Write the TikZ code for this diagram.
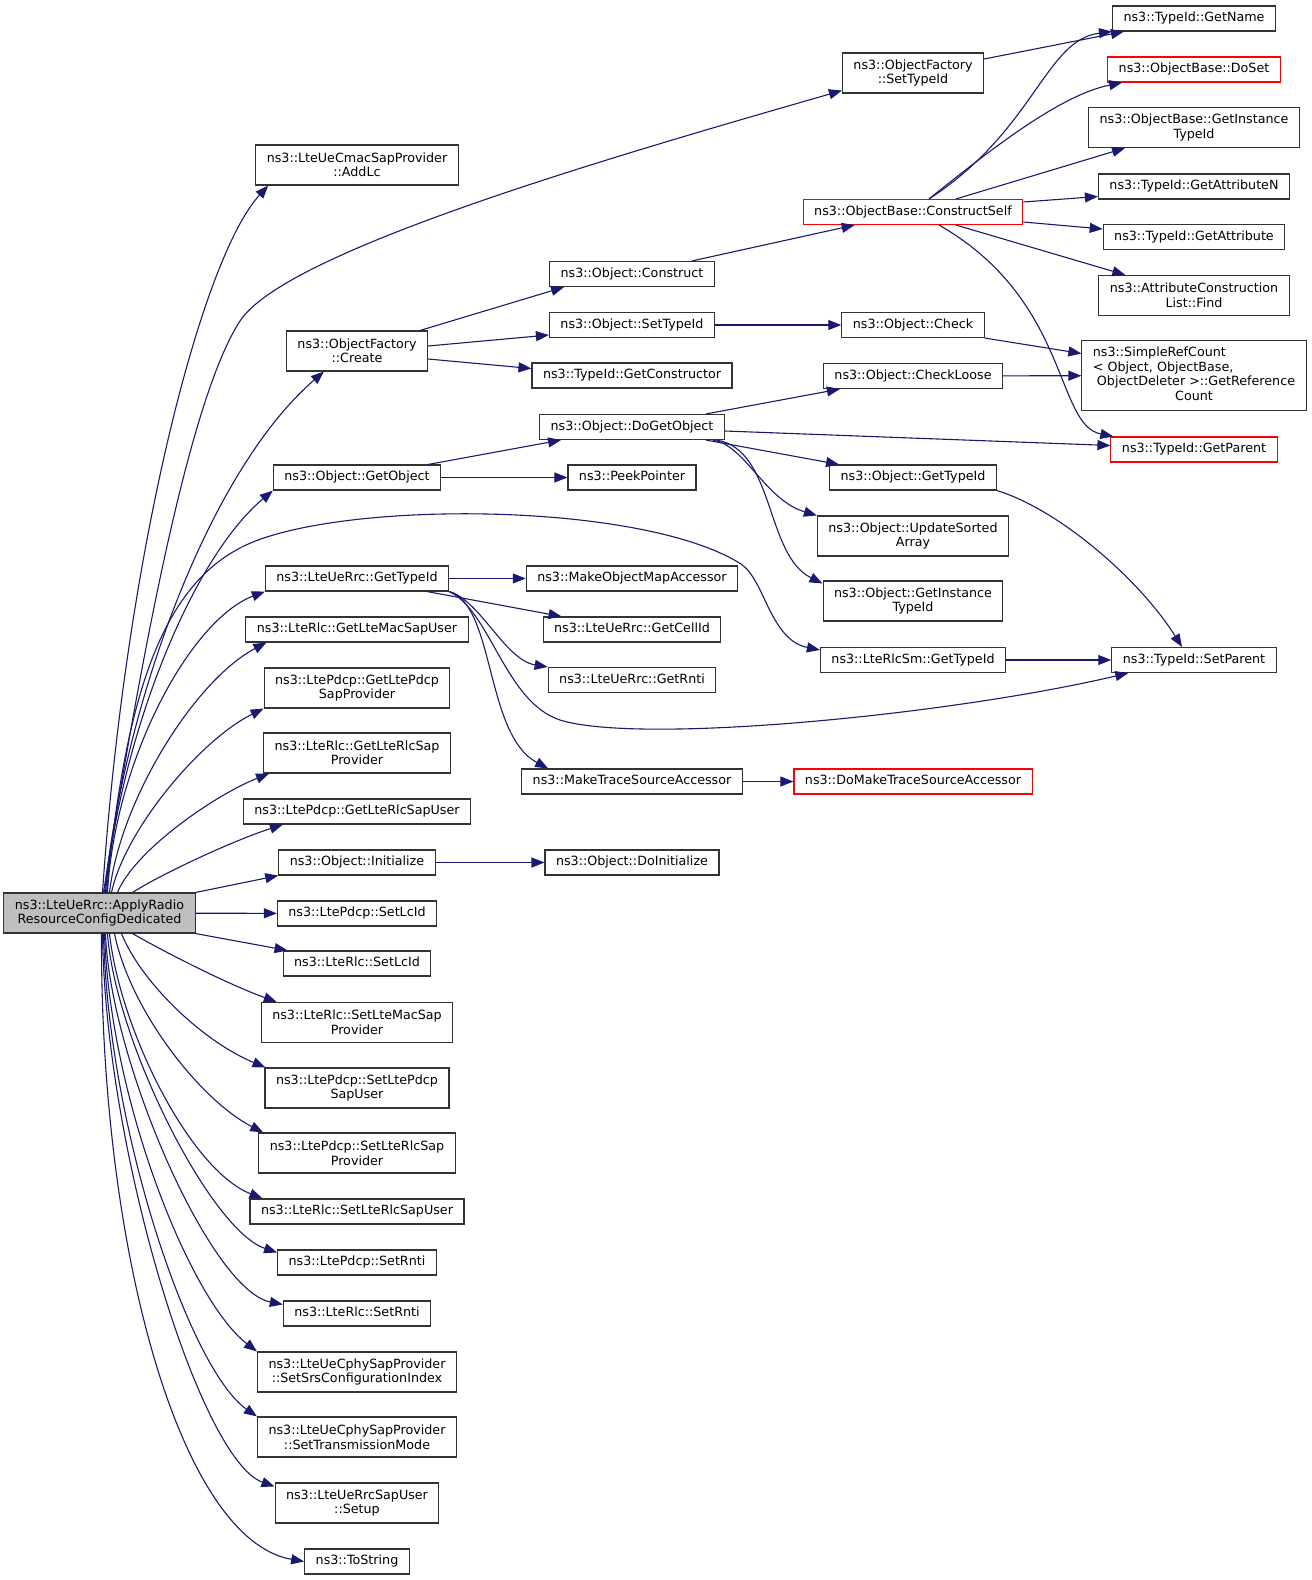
\documentclass[tikz,border=0pt]{standalone}
\usepackage{fontspec}
\setmainfont{DejaVu Sans}
\usetikzlibrary{arrows.meta}
\definecolor{midnightblue}{HTML}{191970}
\tikzset{
  fnbase/.style={draw=black!80, line width=1.1pt, inner xsep=11pt, inner ysep=0pt,
    font=\fontsize{12.7}{14.5}\selectfont},
  fn/.style={fnbase, minimum height=25pt, text height=9.5pt, text depth=3pt},
  fnn/.style={fnbase, align=center, minimum height=40pt},
  trunc/.style={draw=red},
  call/.style={draw=midnightblue, line width=1.1pt, -{Triangle[length=13pt,width=10pt]}}
}
\begin{document}
\begin{tikzpicture}[x=1pt,y=-1pt]
  \useasboundingbox (0,0) rectangle (1312,1580);

  \node[fnn, fill=black!25] (root) at (99.5,913) {ns3::LteUeRrc::ApplyRadio\\ResourceConfigDedicated};

  \node[fnn] (AddLc) at (357,165) {ns3::LteUeCmacSapProvider\\::AddLc};
  \node[fnn] (Create) at (357,351) {ns3::ObjectFactory\\::Create};
  \node[fn] (GetObject) at (357,477.5) {ns3::Object::GetObject};
  \node[fn] (GetTypeId) at (357,578.5) {ns3::LteUeRrc::GetTypeId};
  \node[fn] (GetLteMacSapUser) at (357,629.5) {ns3::LteRlc::GetLteMacSapUser};
  \node[fnn] (GetLtePdcpSapProvider) at (357,688) {ns3::LtePdcp::GetLtePdcp\\SapProvider};
  \node[fnn] (GetLteRlcSapProvider) at (357,753) {ns3::LteRlc::GetLteRlcSap\\Provider};
  \node[fn] (GetLteRlcSapUser) at (357,811.5) {ns3::LtePdcp::GetLteRlcSapUser};
  \node[fn] (Initialize) at (357,862.5) {ns3::Object::Initialize};
  \node[fn] (PdcpSetLcId) at (357,913.5) {ns3::LtePdcp::SetLcId};
  \node[fn] (RlcSetLcId) at (357,963.5) {ns3::LteRlc::SetLcId};
  \node[fnn] (SetLteMacSapProvider) at (357,1022.5) {ns3::LteRlc::SetLteMacSap\\Provider};
  \node[fnn] (SetLtePdcpSapUser) at (357,1088) {ns3::LtePdcp::SetLtePdcp\\SapUser};
  \node[fnn] (SetLteRlcSapProvider) at (357,1153) {ns3::LtePdcp::SetLteRlcSap\\Provider};
  \node[fn] (SetLteRlcSapUser) at (357,1211.5) {ns3::LteRlc::SetLteRlcSapUser};
  \node[fn] (PdcpSetRnti) at (357,1262.5) {ns3::LtePdcp::SetRnti};
  \node[fn] (RlcSetRnti) at (357,1313.5) {ns3::LteRlc::SetRnti};
  \node[fnn] (SetSrs) at (357,1372) {ns3::LteUeCphySapProvider\\::SetSrsConfigurationIndex};
  \node[fnn] (SetTransmissionMode) at (357,1437) {ns3::LteUeCphySapProvider\\::SetTransmissionMode};
  \node[fnn] (Setup) at (357,1503) {ns3::LteUeRrcSapUser\\::Setup};
  \node[fn] (ToString) at (357,1561.5) {ns3::ToString};

  \node[fn] (Construct) at (632,274) {ns3::Object::Construct};
  \node[fn] (ObjSetTypeId) at (632,325) {ns3::Object::SetTypeId};
  \node[fn] (GetConstructor) at (632,375.5) {ns3::TypeId::GetConstructor};
  \node[fn] (DoGetObject) at (632,427) {ns3::Object::DoGetObject};
  \node[fn] (PeekPointer) at (632,477.5) {ns3::PeekPointer};
  \node[fn] (MakeObjectMapAccessor) at (632,578.5) {ns3::MakeObjectMapAccessor};
  \node[fn] (GetCellId) at (632,629.5) {ns3::LteUeRrc::GetCellId};
  \node[fn] (GetRnti) at (632,680) {ns3::LteUeRrc::GetRnti};
  \node[fn] (MakeTraceSourceAccessor) at (632,781.5) {ns3::MakeTraceSourceAccessor};
  \node[fn] (DoInitialize) at (632,862.5) {ns3::Object::DoInitialize};

  \node[fnn] (FactorySetTypeId) at (913,73) {ns3::ObjectFactory\\::SetTypeId};
  \node[fn, trunc] (ConstructSelf) at (913,212) {ns3::ObjectBase::ConstructSelf};
  \node[fn] (Check) at (913,325) {ns3::Object::Check};
  \node[fn] (CheckLoose) at (913,376) {ns3::Object::CheckLoose};
  \node[fn] (ObjGetTypeId) at (913,477.5) {ns3::Object::GetTypeId};
  \node[fnn] (UpdateSortedArray) at (913,536) {ns3::Object::UpdateSorted\\Array};
  \node[fnn] (ObjGetInstanceTypeId) at (913,601) {ns3::Object::GetInstance\\TypeId};
  \node[fn] (RlcSmGetTypeId) at (913,660) {ns3::LteRlcSm::GetTypeId};
  \node[fn, trunc] (DoMakeTraceSourceAccessor) at (913,781.5) {ns3::DoMakeTraceSourceAccessor};

  \node[fn] (GetName) at (1194,18.5) {ns3::TypeId::GetName};
  \node[fn, trunc] (DoSet) at (1194,69.5) {ns3::ObjectBase::DoSet};
  \node[fnn] (BaseGetInstanceTypeId) at (1194,127.5) {ns3::ObjectBase::GetInstance\\TypeId};
  \node[fn] (GetAttributeN) at (1194,186.5) {ns3::TypeId::GetAttributeN};
  \node[fn] (GetAttribute) at (1194,237) {ns3::TypeId::GetAttribute};
  \node[fnn] (Find) at (1194,295.5) {ns3::AttributeConstruction\\List::Find};
  \node[fnbase, minimum height=70pt] (GetReferenceCount) at (1194,375.5) {\begin{tabular}{@{}l@{}}
    ns3::SimpleRefCount\\
    < Object, ObjectBase,\\
    \ ObjectDeleter >::GetReference\\
    \multicolumn{1}{@{}c@{}}{Count}\end{tabular}};
  \node[fn, trunc] (GetParent) at (1194,449.5) {ns3::TypeId::GetParent};
  \node[fn] (SetParent) at (1194,660) {ns3::TypeId::SetParent};

  \draw[call] ([xshift=3pt]root.north) .. controls (125,560) and (200,260) .. ([xshift=13pt]AddLc.south west);
  \draw[call] ([xshift=4pt]root.north) .. controls (150,600) and (195,390) .. (240,321)
    .. controls (285,252) and (600,160) .. ([yshift=3pt]FactorySetTypeId.south west);
  \draw[call] ([xshift=5pt]root.north) .. controls (125,700) and (210,470) .. ([xshift=38pt]Create.south west);
  \draw[call] ([xshift=6pt]root.north) .. controls (120,740) and (190,560) .. (GetObject.south west);
  \draw[call] ([xshift=7pt]root.north) .. controls (125,700) and (160,590) .. (240,548)
    .. controls (330,500) and (640,500) .. (741,564)
    .. controls (765,580) and (770,640) .. ([yshift=-3pt]RlcSmGetTypeId.north west);
  \draw[call] ([xshift=8pt]root.north) .. controls (115,760) and (190,620) .. (GetTypeId.south west);
  \draw[call] ([xshift=10pt]root.north) .. controls (120,800) and (195,680) .. ([xshift=21pt]GetLteMacSapUser.south west);
  \draw[call] ([xshift=12pt]root.north) .. controls (125,830) and (200,740) .. (GetLtePdcpSapProvider.south west);
  \draw[call] ([xshift=18pt]root.north) .. controls (135,850) and (215,795) .. ([xshift=6pt]GetLteRlcSapProvider.south west);
  \draw[call] ([xshift=33pt]root.north) .. controls (165,872) and (235,840) .. ([xshift=40pt]GetLteRlcSapUser.south west);
  \draw[call] (root.north east) -- (Initialize.south west);
  \draw[call] (root.south east) -- ([xshift=5pt]RlcSetLcId.north west);
  \draw[call] ([xshift=33pt]root.south) .. controls (170,955) and (230,985) .. ([xshift=16pt]SetLteMacSapProvider.north west);
  \draw[call] ([xshift=22pt]root.south) .. controls (140,980) and (200,1040) .. ([xshift=1pt]SetLtePdcpSapUser.north west);
  \draw[call] ([xshift=15pt]root.south) .. controls (130,1010) and (200,1100) .. ([xshift=5pt]SetLteRlcSapProvider.north west);
  \draw[call] ([xshift=10pt]root.south) .. controls (120,1030) and (190,1170) .. ([xshift=13pt]SetLteRlcSapUser.north west);
  \draw[call] ([xshift=8pt]root.south) .. controls (115,1040) and (210,1230) .. ([yshift=-3pt]PdcpSetRnti.north west);
  \draw[call] ([xshift=6pt]root.south) .. controls (110,1060) and (210,1290) .. ([yshift=-4pt]RlcSetRnti.north west);
  \draw[call] ([xshift=5pt]root.south) .. controls (110,1100) and (190,1300) .. (SetSrs.north west);
  \draw[call] ([xshift=4pt]root.south) .. controls (108,1130) and (190,1370) .. (SetTransmissionMode.north west);
  \draw[call] ([xshift=3pt]root.south) .. controls (105,1150) and (200,1460) .. ([yshift=-4pt]Setup.north west);
  \draw[call] ([xshift=2pt]root.south) .. controls (100,1250) and (180,1540) .. (ToString.west);

  \foreach \a/\b in {root/PdcpSetLcId, GetObject/PeekPointer, GetTypeId/MakeObjectMapAccessor,
      Initialize/DoInitialize, ObjSetTypeId/Check, MakeTraceSourceAccessor/DoMakeTraceSourceAccessor,
      CheckLoose/GetReferenceCount, RlcSmGetTypeId/SetParent}
    \draw[call] (\a) -- (\b);

  \draw[call] ([xshift=-8pt]Create.north east) -- ([xshift=15pt]Construct.south west);
  \draw[call] ([yshift=5pt]Create.east) -- ([yshift=-10pt]ObjSetTypeId.west);
  \draw[call] ([yshift=-8pt]Create.east) -- ([yshift=7pt]GetConstructor.west);
  \draw[call] ([xshift=-13pt]GetObject.north east) -- ([xshift=22pt]DoGetObject.south west);
  \draw[call] ([xshift=-22pt]GetTypeId.south east) -- ([xshift=19pt]GetCellId.north west);
  \draw[call] (GetTypeId.south east) .. controls (480,600) and (505,660) .. (GetRnti.north west);
  \draw[call] (GetTypeId.south east) .. controls (490,610) and (505,702) .. (560,720)
    .. controls (640,745) and (950,715) .. ([xshift=17pt]SetParent.south west);
  \draw[call] (GetTypeId.south east) .. controls (495,605) and (485,735) .. ([xshift=27pt]MakeTraceSourceAccessor.north west);

  \draw[call] ([xshift=-23pt]Construct.north east) -- ([xshift=52pt]ConstructSelf.south west);
  \draw[call] ([xshift=-19pt]DoGetObject.north east) -- ([xshift=17pt]CheckLoose.south west);
  \draw[call] ([yshift=-4pt]DoGetObject.east) -- ([yshift=4pt]GetParent.west);
  \draw[call] ([xshift=-19pt]DoGetObject.south east) -- ([xshift=10pt]ObjGetTypeId.north west);
  \draw[call] ([xshift=-12pt]DoGetObject.south east) .. controls (745,445) and (765,500) .. (UpdateSortedArray.north west);
  \draw[call] ([xshift=-8pt]DoGetObject.south east) .. controls (775,450) and (765,555) .. ([yshift=-3pt]ObjGetInstanceTypeId.north west);

  \draw[call] ([yshift=14pt]FactorySetTypeId.east) -- ([xshift=12pt]GetName.south west);
  \draw[call] ([xshift=16pt]ConstructSelf.north) .. controls (1035,130) and (1045,40) .. (GetName.south west);
  \draw[call] ([xshift=16pt]ConstructSelf.north) .. controls (990,150) and (1060,95) .. ([xshift=15pt]DoSet.south west);
  \draw[call] ([xshift=43pt]ConstructSelf.north) -- ([xshift=37pt]BaseGetInstanceTypeId.south west);
  \draw[call] ([yshift=10pt]ConstructSelf.east) -- ([yshift=-10pt]GetAttributeN.west);
  \draw[call] ([yshift=-10pt]ConstructSelf.east) -- ([yshift=8pt]GetAttribute.west);
  \draw[call] ([xshift=43pt]ConstructSelf.south) -- ([xshift=27pt]Find.north west);
  \draw[call] ([xshift=26pt]ConstructSelf.south) .. controls (1070,300) and (1055,425) .. ([xshift=3pt]GetParent.north west);
  \draw[call] (Check.south east) -- ([yshift=22pt]GetReferenceCount.west);
  \draw[call] (ObjGetTypeId.south east) .. controls (1060,510) and (1140,580) .. ([xshift=-12pt]SetParent.north);
\end{tikzpicture}
\end{document}
